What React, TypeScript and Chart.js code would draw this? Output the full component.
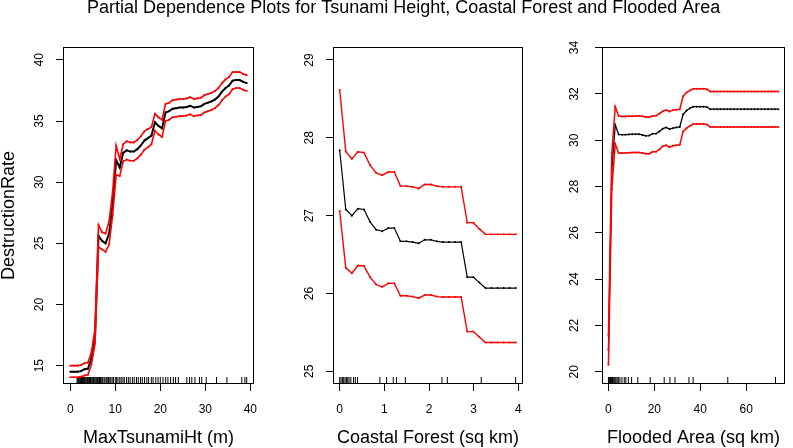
import React, { useEffect, useRef } from 'react';
import { Chart, registerables } from 'chart.js';

Chart.register(...registerables);

const FONT = "'Liberation Sans', Arial, Helvetica, sans-serif";

// ---------- text ----------
const MAIN_TITLE = 'Partial Dependence Plots for Tsunami Height, Coastal Forest and Flooded Area';
const Y_TITLE = 'DestructionRate';

// ---------- Panel 1: MaxTsunamiHt ----------
const tsunamiX = [0, 0.78, 1.57, 2.35, 3.14, 3.92, 4.7, 5.49, 6.27, 7.06, 7.84, 8.62, 9.41, 10.19, 10.98, 11.76, 12.54, 13.33, 14.11, 14.9, 15.68, 16.46, 17.25, 18.03, 18.82, 19.6, 20.38, 21.17, 21.95, 22.74, 23.52, 24.3, 25.09, 25.87, 26.66, 27.44, 28.22, 29.01, 29.79, 30.58, 31.36, 32.14, 32.93, 33.71, 34.5, 35.28, 36.06, 36.85, 37.63, 38.42, 39.2];
const tsunamiMean = [14.5, 14.5, 14.5, 14.55, 14.7, 14.75, 15.6, 17.4, 25.6, 25.2, 25.0, 25.8, 28.2, 31.8, 31.2, 32.4, 32.6, 32.5, 32.5, 32.7, 33.0, 33.4, 33.6, 33.8, 34.9, 34.6, 34.4, 35.7, 35.8, 36.0, 36.05, 36.1, 36.1, 36.15, 36.25, 36.1, 36.15, 36.2, 36.4, 36.5, 36.6, 36.75, 37.0, 37.4, 37.7, 37.9, 38.3, 38.35, 38.35, 38.2, 38.1];
const tsunamiUpper = [15.0, 15.0, 15.0, 15.05, 15.2, 15.25, 16.1, 18.0, 26.5, 25.9, 25.8, 26.8, 29.2, 33.0, 31.9, 33.1, 33.35, 33.25, 33.25, 33.45, 33.75, 34.15, 34.35, 34.5, 35.6, 35.3, 35.1, 36.4, 36.5, 36.7, 36.75, 36.8, 36.8, 36.85, 36.95, 36.8, 36.85, 36.9, 37.1, 37.2, 37.3, 37.45, 37.7, 38.1, 38.4, 38.6, 39.0, 39.0, 39.0, 38.85, 38.75];
const tsunamiLower = [14.05, 14.05, 14.05, 14.1, 14.2, 14.25, 15.1, 16.8, 24.7, 24.5, 24.3, 24.9, 27.3, 30.6, 30.5, 31.7, 31.85, 31.75, 31.75, 31.95, 32.25, 32.65, 32.85, 33.1, 34.2, 33.9, 33.7, 35.0, 35.1, 35.3, 35.35, 35.4, 35.4, 35.45, 35.55, 35.4, 35.45, 35.5, 35.7, 35.8, 35.9, 36.05, 36.3, 36.7, 37.0, 37.2, 37.6, 37.7, 37.7, 37.55, 37.45];
const tsunamiRug = [1.5, 1.7, 1.8, 2.0, 2.2, 2.3, 2.5, 2.7, 2.9, 3.0, 3.2, 3.3, 3.5, 3.7, 3.8, 4.0, 4.2, 4.3, 4.5, 4.6, 4.8, 5.0, 5.2, 5.3, 5.5, 5.7, 5.9, 6.0, 6.2, 6.4, 6.5, 6.7, 7.0, 7.2, 7.5, 7.7, 8.0, 8.2, 8.5, 8.8, 9.0, 9.3, 9.6, 10.0, 10.3, 10.6, 11.0, 11.3, 11.7, 12.0, 12.5, 12.9, 13.3, 13.8, 14.2, 14.7, 15.1, 15.6, 16.0, 16.5, 17.0, 17.4, 18.0, 18.4, 19.0, 19.5, 20.0, 20.6, 21.2, 21.7, 22.3, 22.9, 23.4, 24.0, 25.9, 26.5, 27.0, 27.7, 28.7, 29.2, 30.2, 32.5, 34.8, 38.1, 38.8, 39.2];
const tsunamiXTicks = [0, 10, 20, 30, 40];
const tsunamiYTicks = [15, 20, 25, 30, 35, 40];

// ---------- Panel 2: Coastal Forest ----------
const forestX = [0, 0.136, 0.272, 0.408, 0.544, 0.68, 0.816, 0.952, 1.088, 1.224, 1.36, 1.496, 1.632, 1.768, 1.904, 2.04, 2.176, 2.312, 2.448, 2.584, 2.72, 2.856, 2.992, 3.128, 3.264, 3.4, 3.536, 3.672, 3.808, 3.944];
const forestMean = [27.84, 27.08, 27.0, 27.09, 27.08, 26.92, 26.82, 26.8, 26.84, 26.84, 26.67, 26.67, 26.66, 26.645, 26.69, 26.69, 26.67, 26.66, 26.66, 26.66, 26.66, 26.21, 26.21, 26.14, 26.07, 26.07, 26.07, 26.07, 26.07, 26.07];
const forestUpper = [28.615, 27.825, 27.73, 27.82, 27.81, 27.65, 27.55, 27.52, 27.56, 27.56, 27.38, 27.38, 27.37, 27.35, 27.4, 27.4, 27.38, 27.37, 27.37, 27.37, 27.37, 26.91, 26.91, 26.83, 26.76, 26.76, 26.76, 26.76, 26.76, 26.76];
const forestLower = [27.06, 26.33, 26.26, 26.36, 26.355, 26.21, 26.115, 26.085, 26.13, 26.13, 25.97, 25.97, 25.96, 25.94, 25.98, 25.98, 25.96, 25.955, 25.955, 25.955, 25.955, 25.51, 25.51, 25.44, 25.37, 25.37, 25.37, 25.37, 25.37, 25.37];
const forestRug = [0, 0.03, 0.06, 0.09, 0.12, 0.15, 0.18, 0.21, 0.25, 0.31, 0.35, 0.4, 0.9, 1.05, 1.2, 1.27, 1.47, 2.29, 2.41, 3.17, 3.94];
const forestXTicks = [0, 1, 2, 3, 4];
const forestYTicks = [25, 26, 27, 28, 29];

// ---------- Panel 3: Flooded Area ----------
const floodX = [0, 1.48, 2.96, 4.44, 5.92, 7.4, 8.88, 10.36, 11.84, 13.32, 14.8, 16.28, 17.76, 19.24, 20.72, 22.2, 23.68, 25.16, 26.64, 28.12, 29.6, 31.08, 32.56, 34.04, 35.52, 37, 38.48, 39.96, 41.44, 42.92, 44.4, 45.88, 47.36, 48.84, 50.32, 51.8, 53.28, 54.76, 56.24, 57.72, 59.2, 60.68, 62.16, 63.64, 65.12, 66.6, 68.08, 69.56, 71.04, 72.52, 74];
const floodMean = [20.95, 28.7, 30.67, 30.25, 30.24, 30.24, 30.25, 30.26, 30.26, 30.26, 30.23, 30.19, 30.2, 30.28, 30.28, 30.38, 30.5, 30.55, 30.48, 30.52, 30.55, 30.57, 31.12, 31.28, 31.38, 31.45, 31.45, 31.45, 31.45, 31.43, 31.34, 31.34, 31.34, 31.34, 31.34, 31.34, 31.34, 31.34, 31.34, 31.34, 31.34, 31.34, 31.34, 31.34, 31.34, 31.34, 31.34, 31.34, 31.34, 31.34, 31.34];
const floodUpper = [21.55, 29.45, 31.45, 31.05, 31.02, 31.02, 31.03, 31.04, 31.05, 31.05, 31.03, 31.0, 31.0, 31.05, 31.06, 31.15, 31.25, 31.3, 31.24, 31.3, 31.32, 31.34, 31.9, 32.06, 32.15, 32.22, 32.22, 32.22, 32.22, 32.2, 32.1, 32.1, 32.1, 32.1, 32.1, 32.1, 32.1, 32.1, 32.1, 32.1, 32.1, 32.1, 32.1, 32.1, 32.1, 32.1, 32.1, 32.1, 32.1, 32.1, 32.1];
const floodLower = [20.3, 27.9, 29.85, 29.45, 29.45, 29.45, 29.46, 29.47, 29.47, 29.47, 29.45, 29.42, 29.42, 29.5, 29.5, 29.6, 29.74, 29.78, 29.7, 29.76, 29.78, 29.8, 30.38, 30.52, 30.62, 30.7, 30.7, 30.7, 30.7, 30.68, 30.57, 30.57, 30.57, 30.57, 30.57, 30.57, 30.57, 30.57, 30.57, 30.57, 30.57, 30.57, 30.57, 30.57, 30.57, 30.57, 30.57, 30.57, 30.57, 30.57, 30.57];
const floodRug = [0, 0.3, 0.6, 0.9, 1.2, 1.5, 1.8, 2.1, 2.5, 2.9, 3.3, 3.8, 4.3, 5.0, 5.9, 6.9, 7.6, 8.7, 10.1, 12.8, 18.2, 24.3, 26.8, 29.0, 35.1, 36.9, 52.0, 72.8];
const floodXTicks = [0, 20, 40, 60];
const floodYTicks = [20, 22, 24, 26, 28, 30, 32, 34];

// ---------- layout / style ----------
const W = 793;
const H = 448;
const AREA_TOP = 47;
const AREA_BOTTOM = 384;
const TITLE_LEFT_PAD = 14.4;
const TITLE_SIZE = 18;

type Panel = {
  xs: number[]; mean: number[]; upper: number[]; lower: number[]; rug: number[];
  xTicks: number[]; yTicks: number[];
  xTitle: string; yTitle?: string; mainTitle?: string;
  xRange: [number, number]; yRange: [number, number];
  areaLeft: number; areaRight: number; yTickPad: number;
  meanWidth: number; bandWidth: number;
};

const PANELS: Panel[] = [
  {
    xs: tsunamiX, mean: tsunamiMean, upper: tsunamiUpper, lower: tsunamiLower, rug: tsunamiRug,
    xTicks: tsunamiXTicks, yTicks: tsunamiYTicks, xTitle: 'MaxTsunamiHt (m)', yTitle: Y_TITLE,
    xRange: [-1.62, 40.82], yRange: [13.5, 41.05],
    areaLeft: 63, areaRight: 254, yTickPad: 10.1, meanWidth: 2, bandWidth: 1.6,
  },
  {
    xs: forestX, mean: forestMean, upper: forestUpper, lower: forestLower, rug: forestRug,
    xTicks: forestXTicks, yTicks: forestYTicks, xTitle: 'Coastal Forest (sq km)', mainTitle: MAIN_TITLE,
    xRange: [-0.15, 4.105], yRange: [24.837, 29.167],
    areaLeft: 333, areaRight: 523, yTickPad: 10.1, meanWidth: 1.2, bandWidth: 1.4,
  },
  {
    xs: floodX, mean: floodMean, upper: floodUpper, lower: floodLower, rug: floodRug,
    xTicks: floodXTicks, yTicks: floodYTicks, xTitle: 'Flooded Area (sq km)',
    xRange: [-2.8, 76.93], yRange: [19.469, 34.026],
    areaLeft: 602, areaRight: 792, yTickPad: 13.3, meanWidth: 1.3, bandWidth: 1.5,
  },
];

const boxPlugin = {
  id: 'panelBox',
  afterDraw(chart: any) {
    const { ctx, chartArea: a } = chart;
    ctx.save();
    ctx.strokeStyle = '#000';
    ctx.lineWidth = 1;
    const l = Math.round(a.left) + 0.5;
    const t = Math.round(a.top) + 0.5;
    const r = Math.round(a.right) - 0.5;
    const b = Math.round(a.bottom) - 0.5;
    ctx.strokeRect(l, t, r - l, b - t);
    ctx.restore();
  },
};

function buildConfig(p: Panel): any {
  const pts = (ys: number[]) => ys.map((y, i) => ({ x: p.xs[i], y }));
  const line = (label: string, ys: number[], color: string, width: number) => ({
    type: 'line',
    label,
    data: pts(ys),
    borderColor: color,
    backgroundColor: color,
    borderWidth: width,
    pointRadius: 1,
    pointHoverRadius: 1,
    pointBorderWidth: 0,
    pointBackgroundColor: color,
    tension: 0,
    fill: false,
  });
  const hasTitle = !!p.mainTitle;
  const tickGrid = {
    display: true,
    drawOnChartArea: false,
    drawTicks: true,
    tickLength: 7,
    tickColor: '#000',
    tickWidth: 1,
  };
  const tickFont = { family: FONT, size: 12 };
  const scales: any = {
    x: {
      type: 'linear',
      position: 'bottom',
      min: p.xRange[0],
      max: p.xRange[1],
      afterBuildTicks: (s: any) => { s.ticks = p.xTicks.map((v) => ({ value: v })); },
      afterFit: (s: any) => { s.height = H - AREA_BOTTOM; },
      grid: tickGrid,
      border: { display: false },
      ticks: { padding: 11, minRotation: 0, maxRotation: 0, autoSkip: false, color: '#000', font: tickFont },
      title: {
        display: true, text: p.xTitle, color: '#000',
        font: { family: FONT, size: 18, lineHeight: 1 }, padding: { top: 0, bottom: 0.7 },
      },
    },
    y: {
      type: 'linear',
      position: 'left',
      min: p.yRange[0],
      max: p.yRange[1],
      afterBuildTicks: (s: any) => { s.ticks = p.yTicks.map((v) => ({ value: v })); },
      afterFit: (s: any) => { s.width = p.areaLeft - (hasTitle ? TITLE_LEFT_PAD : 0); },
      grid: tickGrid,
      border: { display: false },
      ticks: {
        minRotation: 90, maxRotation: 90, crossAlign: 'center', padding: p.yTickPad,
        autoSkip: false, color: '#000', font: tickFont,
      },
      title: {
        display: !!p.yTitle, text: p.yTitle || '', color: '#000',
        font: { family: FONT, size: 18, lineHeight: 1 }, padding: 0,
      },
    },
  };
  if (hasTitle) {
    scales.spacer = {
      type: 'linear',
      position: 'right',
      display: true,
      grid: { display: false, drawTicks: false },
      border: { display: false },
      ticks: { display: false },
      title: { display: false },
      afterFit: (s: any) => { s.width = W - p.areaRight; },
    };
  }
  return {
    type: 'line',
    data: {
      datasets: [
        line('upper', p.upper, '#ff0000', p.bandWidth),
        line('lower', p.lower, '#ff0000', p.bandWidth),
        line('mean', p.mean, '#000000', p.meanWidth),
        {
          type: 'scatter',
          label: 'rug',
          data: p.rug.map((v) => ({ x: v, y: p.yRange[0] })),
          showLine: false,
          pointStyle: 'line',
          pointRotation: 90,
          pointRadius: 7,
          pointHoverRadius: 7,
          pointBorderWidth: 1,
          pointBorderColor: '#000',
          borderColor: '#000',
          clip: 0,
        },
      ],
    },
    options: {
      responsive: false,
      animation: false,
      devicePixelRatio: 1,
      events: [],
      layout: {
        padding: hasTitle
          ? { left: TITLE_LEFT_PAD, right: 0, top: 0, bottom: 0 }
          : { left: 0, right: W - p.areaRight, top: AREA_TOP, bottom: 0 },
      },
      scales,
      plugins: {
        legend: { display: false },
        tooltip: { enabled: false },
        title: {
          display: hasTitle,
          text: p.mainTitle || '',
          color: '#000',
          font: { family: FONT, size: TITLE_SIZE, weight: 'normal', lineHeight: 1 },
          padding: { top: -1, bottom: AREA_TOP - TITLE_SIZE + 1 },
        },
      },
    },
    plugins: [boxPlugin],
  };
}

function PanelCanvas({ panel }: { panel: Panel }) {
  const ref = useRef<HTMLCanvasElement>(null);
  useEffect(() => {
    if (!ref.current) return;
    const chart = new Chart(ref.current, buildConfig(panel));
    return () => chart.destroy();
  }, [panel]);
  return (
    <canvas
      ref={ref}
      width={W}
      height={H}
      style={{ position: 'absolute', left: 0, top: 0, width: W, height: H }}
    />
  );
}

export default function App() {
  return (
    <div style={{ position: 'absolute', left: 0, top: 0, width: W, height: H, background: '#fff', overflow: 'hidden' }}>
      {PANELS.map((p, i) => (
        <PanelCanvas key={i} panel={p} />
      ))}
    </div>
  );
}
